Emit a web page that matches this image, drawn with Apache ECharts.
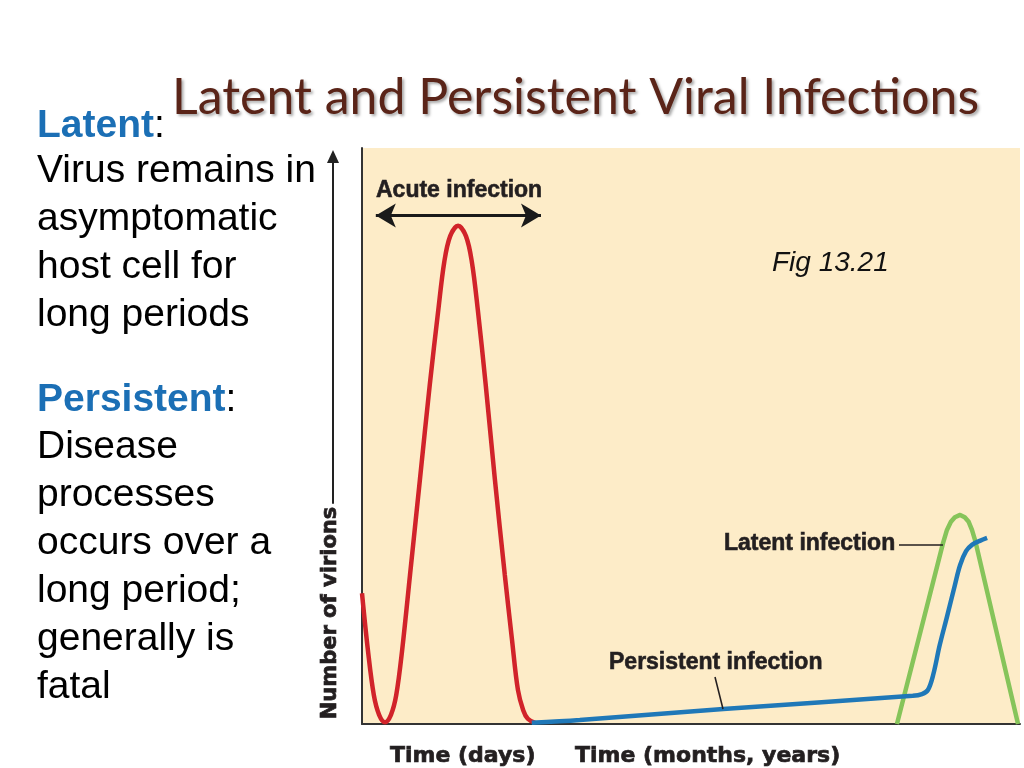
<!DOCTYPE html>
<html>
<head>
<meta charset="utf-8">
<script src="https://cdn.jsdelivr.net/npm/echarts@6/dist/echarts.min.js"></script>
<style>
html,body{margin:0;padding:0;background:#fff;}
#c{width:1024px;height:768px;}
</style>
</head>
<body>
<div id="c"></div>
<script>
// ---- data (x: time axis 0-100, y: number of virions 0-100) ----
const acuteX = [0, 0.9, 1.8, 2.6, 3.5, 4.4, 5.2, 6.1, 7.3, 8.8, 10.3, 11.6, 12.5, 13.4, 14.6, 15.8, 16.7, 17.6, 18.8, 20.2, 21.7, 22.8, 23.7, 24.5, 25.2, 26.3];
const acuteY = [22.7, 12.8, 5.0, 1.6, 0.3, 1.6, 5.0, 12.8, 25.9, 42.4, 58.9, 71.9, 80.2, 84.7, 86.5, 84.7, 80.2, 71.9, 58.9, 42.4, 25.9, 14.6, 5.9, 2.4, 0.9, 0.2];
const persistentX = [25.8, 33.1, 54.9, 83.7, 85.1, 86.0, 86.8, 87.8, 88.9, 90.1, 90.9, 91.8, 92.7, 93.9, 95.0];
const persistentY = [0.2, 0.7, 2.6, 4.9, 5.2, 5.9, 8.5, 13.7, 18.6, 24.1, 27.6, 30.0, 31.1, 31.8, 32.3];
const latentX = [81.3, 88.3, 88.9, 89.5, 90.1, 90.9, 91.6, 92.2, 92.7, 93.2, 99.7];
const latentY = [0, 31.4, 33.7, 35.1, 35.9, 36.3, 35.9, 35.1, 33.7, 31.8, 0];
const acuteSpan = [2.1, 27.2];   // arrow span of the acute phase on the time axis
const acuteArrowY = 88.3;

const titleText = 'Latent and Persistent Viral Infections';
const latentLines = ['Virus remains in', 'asymptomatic', 'host cell for', 'long periods'];
const persistentLines = ['Disease', 'processes', 'occurs over a', 'long period;', 'generally is', 'fatal'];
const xLabels = ['Time (days)', 'Time (months, years)'];
const yLabel = 'Number of virions';

const zip = (xs, ys) => xs.map((x, i) => [x, ys[i]]);

const bodyFont = '"Liberation Sans", Arial, sans-serif';
const heavyFont = '"DejaVu Sans", sans-serif';
const blue = '#1b6fb5';
const ink = '#231f20';

const graphics = [];
// title
graphics.push({type:'text', x:172, y:98, style:{text:titleText, font:'50px Lato, sans-serif', fill:'#5a2418', verticalAlign:'middle', align:'left', textShadowColor:'rgba(0,0,0,0.35)', textShadowBlur:3, textShadowOffsetX:2, textShadowOffsetY:2}});
// left text block
graphics.push({type:'text', x:37, y:126, style:{text:'{b|Latent}{n|:}', verticalAlign:'middle', rich:{b:{font:'bold 39px '+bodyFont, fill:blue}, n:{font:'39px '+bodyFont, fill:'#000'}}}});
latentLines.forEach((t, i) => graphics.push({type:'text', x:37, y:171 + i*48, style:{text:t, font:'39px '+bodyFont, fill:'#000', verticalAlign:'middle'}}));
graphics.push({type:'text', x:37, y:400, style:{text:'{b|Persistent}{n|:}', verticalAlign:'middle', rich:{b:{font:'bold 39px '+bodyFont, fill:blue}, n:{font:'39px '+bodyFont, fill:'#000'}}}});
persistentLines.forEach((t, i) => graphics.push({type:'text', x:37, y:447 + i*48, style:{text:t, font:'39px '+bodyFont, fill:'#000', verticalAlign:'middle'}}));
// y axis arrow + label
graphics.push({type:'line', shape:{x1:333, y1:722, x2:333, y2:158}, style:{stroke:'#222', lineWidth:2}});
graphics.push({type:'polygon', shape:{points:[[333,150],[327,163],[339,163]]}, style:{fill:'#222'}});
graphics.push({type:'text', x:331, y:613, rotation:Math.PI/2, style:{text:yLabel, font:'bold 21px '+heavyFont, fill:ink, stroke:ink, lineWidth:0.7, align:'center', verticalAlign:'middle', backgroundColor:'#fff', padding:[0,3]}});
// x labels
graphics.push({type:'text', x:390, y:756, style:{text:xLabels[0], font:'bold 22px '+heavyFont, fill:ink, stroke:ink, lineWidth:0.7, verticalAlign:'middle'}});
graphics.push({type:'text', x:575, y:756, style:{text:xLabels[1], font:'bold 22px '+heavyFont, fill:ink, stroke:ink, lineWidth:0.7, verticalAlign:'middle'}});
// annotations
graphics.push({type:'text', x:376, y:191, z:10, style:{text:'Acute infection', font:'bold 23px '+bodyFont, fill:ink, verticalAlign:'middle', stroke:ink, lineWidth:0.6}});
graphics.push({type:'text', x:772, y:263, z:10, style:{text:'Fig 13.21', font:'italic 28px '+bodyFont, fill:'#111', verticalAlign:'middle'}});
graphics.push({type:'text', x:724, y:544, z:10, style:{text:'Latent infection', font:'bold 23px '+bodyFont, fill:ink, verticalAlign:'middle', stroke:ink, lineWidth:0.6}});
graphics.push({type:'line', z:10, shape:{x1:899, y1:545, x2:943, y2:545}, style:{stroke:ink, lineWidth:1.5}});
graphics.push({type:'text', x:609, y:663, z:10, style:{text:'Persistent infection', font:'bold 23px '+bodyFont, fill:ink, verticalAlign:'middle', stroke:ink, lineWidth:0.6}});
graphics.push({type:'line', z:10, shape:{x1:715, y1:677, x2:723, y2:709}, style:{stroke:ink, lineWidth:1.5}});

const chart = echarts.init(document.getElementById('c'), null, {renderer:'canvas'});
chart.setOption({
  animation:false,
  backgroundColor:'#fff',
  grid:{left:362, top:148, right:4, bottom:44, show:true, backgroundColor:'#fdecc8', borderWidth:0},
  xAxis:{type:'value', min:0, max:100, axisLine:{show:true, onZero:false, lineStyle:{color:'#333', width:2}}, axisTick:{show:false}, axisLabel:{show:false}, splitLine:{show:false}},
  yAxis:{type:'value', min:0, max:100, axisLine:{show:true, lineStyle:{color:'#333', width:2}}, axisTick:{show:false}, axisLabel:{show:false}, splitLine:{show:false}},
  series:[
    {type:'line', name:'Acute', data:zip(acuteX, acuteY), smooth:0.35, showSymbol:false, lineStyle:{color:'#d1232a', width:4.5}, z:3,
     markLine:{silent:true, symbol:['arrow','arrow'], symbolSize:[18,20], label:{show:false}, lineStyle:{color:'#1a1a1a', width:3, type:'solid'},
       data:[[{coord:[acuteSpan[0], acuteArrowY]}, {coord:[acuteSpan[1], acuteArrowY]}]]}},
    {type:'line', name:'Persistent', data:zip(persistentX, persistentY), smooth:0.35, showSymbol:false, lineStyle:{color:'#1f78b8', width:4.5}, z:4},
    {type:'line', name:'Latent', data:zip(latentX, latentY), smooth:false, showSymbol:false, lineStyle:{color:'#86c45a', width:4.5, join:'round'}, z:3}
  ],
  graphic:graphics
});
</script>
</body>
</html>
